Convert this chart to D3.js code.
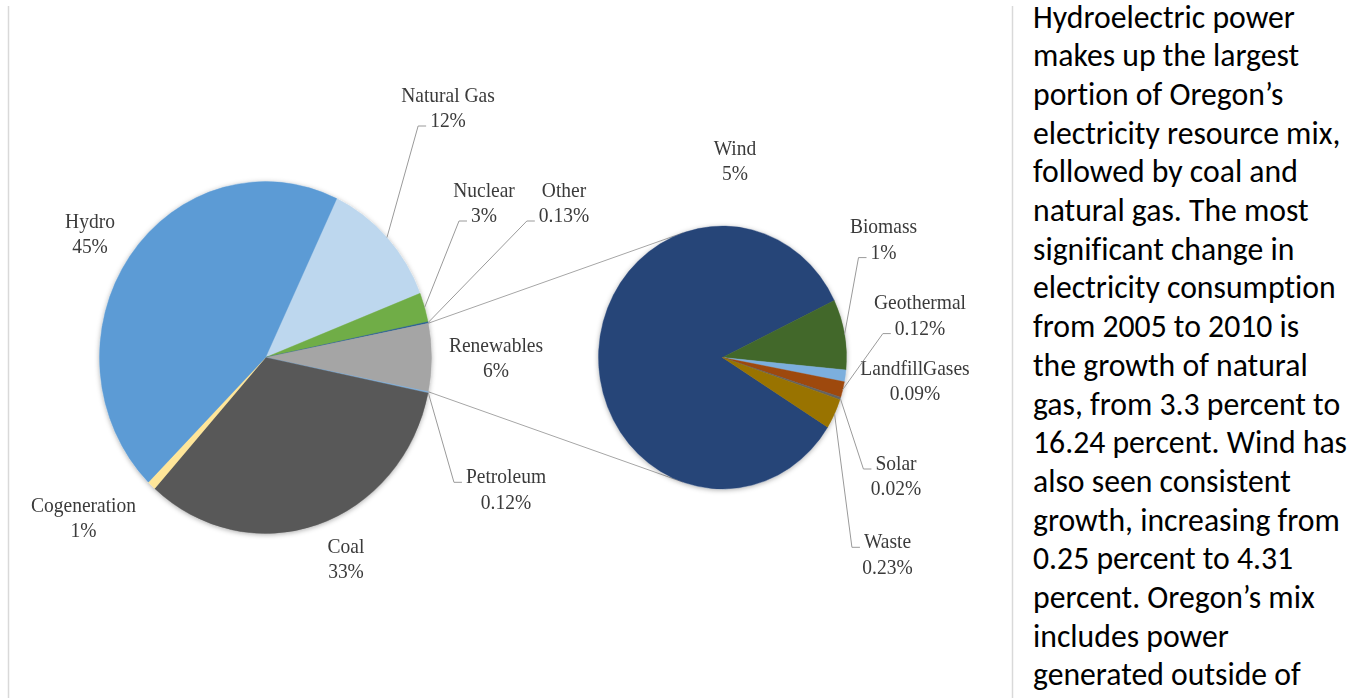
<!DOCTYPE html>
<html>
<head>
<meta charset="utf-8">
<script src="https://cdn.jsdelivr.net/npm/d3@7"></script>
<style>
  html, body { margin: 0; padding: 0; background: #fff; }
  svg { display: block; }
  .note { font-variant-ligatures: none; font-feature-settings: "liga" 0, "clig" 0; }
</style>
</head>
<body>
<svg id="page" width="1364" height="698"></svg>
<script>
// Oregon electricity resource mix, percent of total (main pie, clockwise order)
const mixNames  = ["Natural Gas", "Nuclear", "Other", "Renewables", "Petroleum", "Coal", "Cogeneration", "Hydro"];
const mixValues = [12.0, 2.69, 0.13, 6.24, 0.12, 33.4, 0.83, 44.6];
const mixColors = ["#BDD7EE", "#70AD47", "#255E91", "#A5A5A5", "#7CAFDD", "#595959", "#FFE699", "#5B9BD5"];

// Renewables broken out in the secondary pie (percent of total)
const renewNames  = ["Wind", "Biomass", "LandfillGases", "Geothermal", "Solar", "Waste"];
const renewValues = [5.24, 0.54, 0.09, 0.12, 0.02, 0.23];
const renewColors = ["#264478", "#43682B", "#7CAFDD", "#9E480E", "#636363", "#997300"];

// Side text
const noteLines = [
  "Hydroelectric power",
  "makes up the largest",
  "portion of Oregon\u2019s",
  "electricity resource mix,",
  "followed by coal and",
  "natural gas. The most",
  "significant change in",
  "electricity consumption",
  "from 2005 to 2010 is",
  "the growth of natural",
  "gas, from 3.3 percent to",
  "16.24 percent. Wind has",
  "also seen consistent",
  "growth, increasing from",
  "0.25 percent to 4.31",
  "percent. Oregon\u2019s mix",
  "includes power",
  "generated outside of"
];

// ---- layout ----
const squash = 1.06;                 // pies are drawn slightly taller than wide
const mainPie  = { cx: 265.5, cy: 357.5, r: 166 };
const splitPie = { cx: 722.5, cy: 357.5, r: 124 };
const splitStartDeg = 122;           // where the Wind slice begins

// label anchors: centre x, first baseline, and which line a leader attaches to
const labelPos = {
  "Hydro":        { x: 90,    y: 227.7 },
  "Natural Gas":  { x: 448,   y: 101.7, lead: 1 },
  "Nuclear":      { x: 484,   y: 196.7, lead: 1 },
  "Other":        { x: 564,   y: 196.7, lead: 1 },
  "Renewables":   { x: 496,   y: 351.7 },
  "Petroleum":    { x: 506,   y: 483.3, lead: 0 },
  "Coal":         { x: 346,   y: 552.7 },
  "Cogeneration": { x: 83.5,  y: 511.7 },
  "Wind":         { x: 735,   y: 155 },
  "Biomass":      { x: 883.5, y: 233.3, lead: 1 },
  "Geothermal":   { x: 920,   y: 309.3, lead: 1 },
  "LandfillGases":{ x: 915,   y: 375 },
  "Solar":        { x: 896,   y: 470,   lead: 0 },
  "Waste":        { x: 887.5, y: 548.3, lead: 0 }
};
const labelFont = "'Liberation Serif', 'Times New Roman', serif";
const labelSize = 19.5;
const labelLeading = 25.3;

const fmtPct = v => (v >= 0.5 ? Math.round(v) : v.toFixed(2)) + "%";

const svg = d3.select("#page");

// soft outer shadow on the pies
const defs = svg.append("defs");
const sh = defs.append("filter").attr("id", "pieShadow")
  .attr("x", "-10%").attr("y", "-10%").attr("width", "120%").attr("height", "120%");
sh.append("feDropShadow").attr("dx", 0).attr("dy", 1).attr("stdDeviation", 2.6)
  .attr("flood-color", "#000").attr("flood-opacity", 0.32);
const soft = defs.append("filter").attr("id", "soft");
soft.append("feGaussianBlur").attr("stdDeviation", 0.35);

// page rules
svg.append("line").attr("x1", 8.5).attr("x2", 8.5).attr("y1", 6).attr("y2", 698)
  .attr("stroke", "#D9D9D9").attr("stroke-width", 1.5);
svg.append("line").attr("x1", 1012.5).attr("x2", 1012.5).attr("y1", 6).attr("y2", 698)
  .attr("stroke", "#D9D9D9").attr("stroke-width", 1.5);

const chart = svg.append("g").attr("filter", "url(#soft)");

const deg = Math.PI / 180;
const total = d3.sum(mixValues);
const renIdx = mixNames.indexOf("Renewables");
// rotate so the Renewables slice faces the secondary pie (centred at 3 o'clock)
const beforeRen = d3.sum(mixValues.slice(0, renIdx)) + mixValues[renIdx] / 2;
const mainStart = Math.PI / 2 - beforeRen / total * 2 * Math.PI;

const mainArcs = d3.pie().sort(null).value(d => d.v)
  .startAngle(mainStart).endAngle(mainStart + 2 * Math.PI)(
    mixNames.map((n, i) => ({ name: n, v: mixValues[i], color: mixColors[i] })));

const splitArcs = d3.pie().sort(null).value(d => d.v)
  .startAngle(splitStartDeg * deg).endAngle(splitStartDeg * deg + 2 * Math.PI)(
    renewNames.map((n, i) => ({ name: n, v: renewValues[i], color: renewColors[i] })));

// point on a pie's rim (screen coordinates, squash applied)
function rim(p, a) {
  return [p.cx + p.r * Math.sin(a), p.cy - p.r * Math.cos(a) * squash];
}

// series lines from the Renewables slice to the secondary pie (tangents)
const ren = mainArcs[renIdx];
function tangent(a, upper) {
  const px = mainPie.cx + mainPie.r * Math.sin(a);
  const py = mainPie.cy - mainPie.r * Math.cos(a);
  const vx = splitPie.cx - px, vy = splitPie.cy - py;
  const d = Math.hypot(vx, vy);
  const th = Math.atan2(vy, vx);
  const al = Math.asin(splitPie.r / d);
  const dir = upper ? th - al : th + al;
  const len = Math.sqrt(d * d - splitPie.r * splitPie.r);
  const tx = px + len * Math.cos(dir), ty = py + len * Math.sin(dir);
  const sy = y => mainPie.cy + (y - mainPie.cy) * squash;
  return [[px, sy(py)], [tx, sy(ty)]];
}
[tangent(ren.startAngle, true), tangent(ren.endAngle, false)].forEach(seg => {
  chart.append("line")
    .attr("x1", seg[0][0]).attr("y1", seg[0][1]).attr("x2", seg[1][0]).attr("y2", seg[1][1])
    .attr("stroke", "#A6A6A6").attr("stroke-width", 1);
});

// draw both pies
function drawPie(p, arcs) {
  const g = chart.append("g")
    .attr("transform", `translate(${p.cx},${p.cy}) scale(1,${squash})`)
    .attr("filter", "url(#pieShadow)");
  const arc = d3.arc().innerRadius(0).outerRadius(p.r);
  g.selectAll("path").data(arcs).join("path")
    .attr("d", arc)
    .attr("fill", d => d.data.color)
    .attr("stroke", d => d.data.color)
    .attr("stroke-width", 0.4);
}
drawPie(mainPie, mainArcs);
drawPie(splitPie, splitArcs);

// labels and leader lines
const labels = chart.append("g");
function drawLabel(d, p) {
  const pos = labelPos[d.data.name];
  const lines = [d.data.name, fmtPct(d.data.v)];
  const lefts = [];
  lines.forEach((t, i) => {
    const g = labels.append("g")
      .attr("transform", `translate(${pos.x},${pos.y + i * labelLeading}) scale(1,${squash})`);
    const txt = g.append("text")
      .attr("text-anchor", "middle")
      .attr("font-family", labelFont)
      .attr("font-size", labelSize)
      .attr("fill", "#3A3A3A")
      .text(t);
    lefts.push(pos.x - txt.node().getComputedTextLength() / 2);
  });
  if (pos.lead !== undefined) {
    const mid = (d.startAngle + d.endAngle) / 2;
    const s = rim(p, mid);
    const ex = lefts[pos.lead] - 4;
    const ey = pos.y + pos.lead * labelLeading - 1;
    labels.append("polyline")
      .attr("points", [s, [ex - 8, ey], [ex, ey]].map(q => q.join(",")).join(" "))
      .attr("fill", "none")
      .attr("stroke", "#9A9A9A")
      .attr("stroke-width", 1);
  }
}
mainArcs.forEach(d => drawLabel(d, mainPie));
splitArcs.forEach(d => drawLabel(d, splitPie));

// side note, sized so the lines wrap as set
const note = svg.append("g").attr("class", "note");
const noteFont = "Carlito, Calibri, Lato, 'Open Sans', sans-serif";
const probe = note.append("text").attr("font-family", noteFont).attr("font-size", 100).text(noteLines[0]);
const noteSize = 100 * 262 / probe.node().getComputedTextLength();
probe.remove();
note.selectAll("text").data(noteLines).join("text")
  .attr("x", 1033)
  .attr("y", (d, i) => 27.5 + i * 38.7)
  .attr("font-family", noteFont)
  .attr("font-size", noteSize)
  .attr("fill", "#000")
  .text(d => d);
</script>
</body>
</html>
